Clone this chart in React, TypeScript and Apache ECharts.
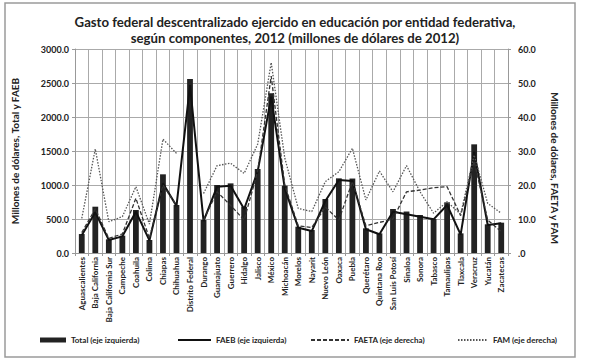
import React, { useEffect, useRef } from "react";
import * as echarts from "echarts";

const categories = [
  "Aguascalientes", "Baja California", "Baja California Sur", "Campeche", "Coahuila", "Colima",
  "Chiapas", "Chihuahua", "Distrito Federal", "Durango", "Guanajuato", "Guerrero", "Hidalgo",
  "Jalisco", "México", "Michoacán", "Morelos", "Nayarit", "Nuevo León", "Oaxaca", "Puebla",
  "Querétaro", "Quintana Roo", "San Luis Potosí", "Sinaloa", "Sonora", "Tabasco", "Tamaulipas",
  "Tlaxcala", "Veracruz", "Yucatán", "Zacatecas",
];

const total = [
  279, 681, 201, 255, 632, 191, 1157, 706, 2559, 485, 1000, 1024, 681, 1235, 2348, 990,
  387, 338, 794, 1098, 1095, 363, 289, 647, 610, 559, 500, 745, 289, 1598, 422, 446,
];

const faeb = [
  262, 598, 190, 245, 608, 185, 1024, 690, 2470, 470, 975, 990, 647, 1196, 2300, 950,
  372, 323, 765, 1074, 1059, 350, 275, 608, 570, 534, 495, 706, 270, 1490, 412, 436,
];

const faeta = [
  6, 13, 4.3, 5.6, 16.1, 4.3, 20, 14, null, 9.7, 18, 14, 9.7, 24, 52, 20,
  8, 7.5, 13.5, 9.7, 21, 8, 9, 10, 18, 18.5, 19.2, 19.5, 11, 27, 9.7, 6.3,
];

const fam = [
  10.2, 30.6, 9.2, 10.7, 19.5, 8.5, 33.5, 29.3, null, 17.5, 25.7, 26.4, 23.4, 32, 56, 28,
  13.1, 12.2, 21, 23.9, 30.8, 15.6, 24.1, 18, 25.7, 18, 11.7, 15.1, 11.4, 28.8, 14.6, 11.7,
];

const leftTicks = { min: 0, max: 3000, interval: 500 };
const rightTicks = { min: 0, max: 60, interval: 10 };

const FONT = "Lato";
const TXT = "#222";

export default function App() {
  const ref = useRef<HTMLDivElement>(null);
  useEffect(() => {
    if (!ref.current) return;
    const chart = echarts.init(ref.current, null, { renderer: "svg" });
    const legendText = { fontFamily: FONT, fontSize: 8, fontWeight: "bold", color: TXT };
    const hideSym = { opacity: 0 };
    const legendBase = { top: 336, itemHeight: 8, itemGap: 4, padding: 0, textStyle: legendText };
    chart.setOption({
      animation: false,
      backgroundColor: "#fff",
      title: {
        text: "Gasto federal descentralizado ejercido en educación por entidad federativa,\nsegún componentes, 2012 (millones de dólares de 2012)",
        left: 290,
        textAlign: "center",
        top: 9,
        textStyle: { fontFamily: FONT, fontSize: 13.2, fontWeight: "bold", color: TXT, lineHeight: 16 },
      },
      graphic: [
        {
          type: "rect",
          shape: { x: 5, y: 3, width: 570, height: 354 },
          style: { fill: "none", stroke: "#9a9a9a", lineWidth: 1.5 },
          silent: true,
        },
      ],
      legend: [
        { ...legendBase, data: ["Total (eje izquierda)"], left: 40, itemWidth: 26, itemHeight: 5, icon: "rect" },
        { ...legendBase, data: ["FAEB (eje izquierda)"], left: 177, itemWidth: 33, itemStyle: hideSym },
        { ...legendBase, data: ["FAETA (eje derecha)"], left: 310, itemWidth: 38, itemStyle: hideSym },
        { ...legendBase, data: ["FAM (eje derecha)"], left: 457, itemWidth: 30, itemStyle: hideSym },
      ],
      grid: { left: 75, right: 81, top: 49, bottom: 107, containLabel: false },
      xAxis: {
        type: "category",
        data: categories,
        boundaryGap: true,
        axisLine: { show: true, lineStyle: { color: "#999", width: 1 } },
        axisTick: { show: true, alignWithLabel: false, length: 3, lineStyle: { color: "#999" } },
        splitLine: { show: true, lineStyle: { color: "#aaa", width: 1 } },
        axisLabel: {
          interval: 0,
          rotate: 90,
          margin: 4,
          fontFamily: FONT,
          fontSize: 8,
          fontWeight: "bold",
          color: TXT,
        },
      },
      yAxis: [
        {
          type: "value",
          ...leftTicks,
          name: "Millones de dólares, Total y FAEB",
          nameLocation: "middle",
          nameGap: 55,
          nameRotate: 90,
          nameTextStyle: { fontFamily: FONT, fontSize: 10, fontWeight: "bold", color: TXT },
          axisLine: { show: true, lineStyle: { color: "#999" } },
          axisTick: { show: true, length: 3, lineStyle: { color: "#999" } },
          splitLine: { show: true, lineStyle: { color: "#aaa", width: 1 } },
          axisLabel: {
            fontFamily: FONT,
            fontSize: 9,
            fontWeight: "bold",
            color: TXT,
            margin: 6,
            formatter: (v: number) => v.toFixed(1),
          },
        },
        {
          type: "value",
          ...rightTicks,
          position: "right",
          name: "Millones de dólares, FAETA y FAM",
          nameLocation: "middle",
          nameGap: 42,
          nameRotate: -90,
          nameTextStyle: {
            fontFamily: FONT,
            fontSize: 10,
            fontWeight: "bold",
            color: TXT,
            padding: [0, 0, 0, 34],
          },
          axisLine: { show: true, lineStyle: { color: "#999" } },
          axisTick: { show: true, length: 3, lineStyle: { color: "#999" } },
          splitLine: { show: false },
          axisLabel: {
            fontFamily: FONT,
            fontSize: 9,
            fontWeight: "bold",
            color: TXT,
            margin: 10,
            formatter: (v: number) => (v === 0 ? ".0" : v.toFixed(1)),
          },
        },
      ],
      series: [
        {
          name: "Total (eje izquierda)",
          type: "bar",
          yAxisIndex: 0,
          data: total,
          barWidth: 5.8,
          itemStyle: { color: "#222" },
        },
        {
          name: "FAEB (eje izquierda)",
          type: "line",
          yAxisIndex: 0,
          data: faeb,
          symbol: "none",
          lineStyle: { color: "#111", width: 2 },
          itemStyle: { color: "#111" },
        },
        {
          name: "FAETA (eje derecha)",
          type: "line",
          yAxisIndex: 1,
          data: faeta,
          symbol: "none",
          connectNulls: false,
          lineStyle: { color: "#333", width: 1.3, type: [4, 2] },
          itemStyle: { color: "#333" },
        },
        {
          name: "FAM (eje derecha)",
          type: "line",
          yAxisIndex: 1,
          data: fam,
          symbol: "none",
          connectNulls: false,
          lineStyle: { color: "#555", width: 1.3, type: [1.5, 1.5] },
          itemStyle: { color: "#555" },
        },
      ],
    });
    return () => chart.dispose();
  }, []);
  return (
    <div
      ref={ref}
      style={{ position: "fixed", left: 0, top: 0, width: 589, height: 360, background: "#fff" }}
    />
  );
}
